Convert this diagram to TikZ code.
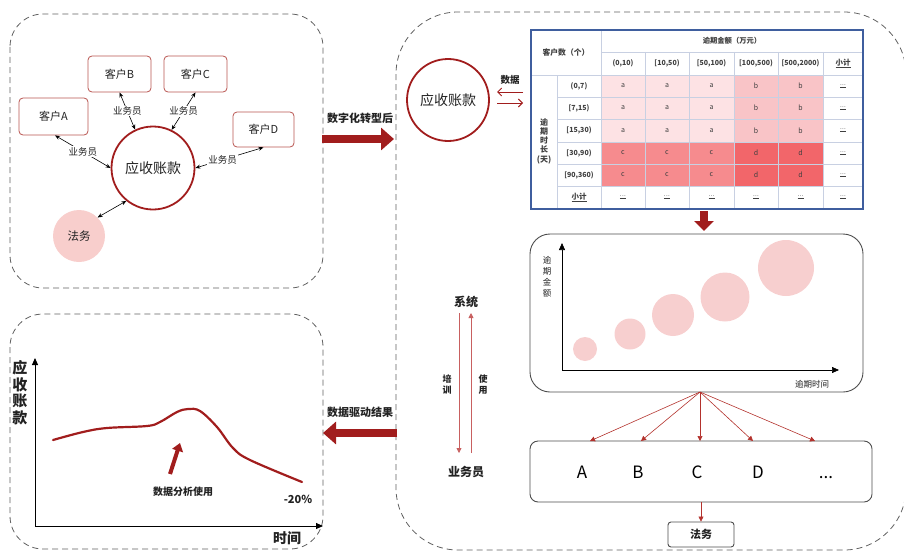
\documentclass[tikz,border=0pt]{standalone}
\usepackage{fontspec}
\setmainfont{Noto Sans CJK SC}
\usetikzlibrary{arrows.meta}
\definecolor{dred}{HTML}{A11D1D}
\definecolor{bred}{HTML}{B85450}
\definecolor{pinkf}{HTML}{F8CECC}
\definecolor{fanred}{HTML}{B3322D}
\definecolor{lred}{HTML}{C86060}
\definecolor{tblue}{HTML}{3F5E9E}
\definecolor{tgrid}{HTML}{C8D0E2}
\definecolor{ca}{HTML}{FDE2E4}
\definecolor{cb}{HTML}{F9C4C7}
\definecolor{cc}{HTML}{F68B8E}
\definecolor{cd}{HTML}{F2666A}
\definecolor{bubf}{HTML}{F7CFCF}
\definecolor{txt}{HTML}{222222}
\newcommand{\myfs}[1]{\fontsize{#1}{#1}\selectfont}
\begin{document}
\begin{tikzpicture}[x=1pt,y=-1pt,
  panel/.style={draw=gray!75!black, dash pattern=on 6pt off 4pt, line width=0.8pt},
  kbox/.style={draw=bred, rounded corners=4pt, line width=0.8pt, font=\myfs{11}, text=txt},
  arcirc/.style={circle, draw=dred, line width=1.8pt, font=\myfs{14}, text=txt},
  blk/.style={black, line width=0.6pt, {Stealth[length=5pt,width=4pt]}-{Stealth[length=5pt,width=4pt]}},
  ylab/.style={fill=white, inner sep=1pt, font=\myfs{9.5}, text=txt},
  bigarrow/.style={dred, line width=8pt, -{Triangle[length=13pt,width=22pt]}},
  btxt/.style={font=\bfseries\myfs{11}, text=txt},
  tb/.style={font=\bfseries\myfs{7}, text=black!75},
  tc/.style={font=\myfs{7}, text=black!75},
  fan/.style={fanred, line width=0.6pt, -{Triangle[length=5pt,width=5pt]}},
  laxis/.style={black, line width=0.9pt, -{Triangle[length=7pt,width=6pt]}},
  barrow/.style={lred, line width=0.8pt, -{Triangle[length=5pt,width=5pt]}},
  letter/.style={font=\myfs{17}, text=black},
]
\useasboundingbox (0,0) rectangle (904,551);

% ---------- panels ----------
\draw[panel, rounded corners=33pt] (10,14) rectangle (323,288);
\draw[panel, rounded corners=33pt] (10,314) rectangle (323,549);
\draw[panel, rounded corners=62pt] (396,12) rectangle (906,550);

% ---------- top-left ----------
\node[kbox, minimum width=69pt, minimum height=37pt] (ka) at (53.5,116.5) {客户A};
\node[kbox, minimum width=63pt, minimum height=36pt] (kb) at (119.5,74) {客户B};
\node[kbox, minimum width=63pt, minimum height=36pt] (kc) at (195.5,74) {客户C};
\node[kbox, minimum width=61pt, minimum height=35pt] (kd) at (263.5,129.5) {客户D};
\node[arcirc, minimum size=83pt] (ar1) at (153,168) {应收账款};
\node[circle, fill=pinkf, minimum size=52pt, font=\myfs{11.5}, text=txt] (fw1) at (79,236) {法务};
\draw[blk] ([xshift=1.5pt]ka.south) -- (ar1.west) node[ylab, midway] (l1) {业务员};
\draw[blk] (kb.south) -- (ar1.115) node[ylab, midway] (l2) {业务员};
\draw[blk] (kc.south) -- (ar1.64) node[ylab, midway] (l3) {业务员};
\draw[blk] (kd.south) -- (ar1.east) node[ylab, pos=0.6] (l4) {业务员};
\draw[blk] (fw1.45) -- (ar1.231);

% ---------- middle arrows ----------
\node[btxt] (t1) at (360,118) {数字化转型后};
\coordinate (d1s) at (322,139);
\coordinate (d1e) at (394,139);
\draw[bigarrow] (d1s) -- (d1e);
\node[btxt] (t2) at (360,412) {数据驱动结果};
\coordinate (d2s) at (397,433);
\coordinate (d2e) at (323,433);
\draw[bigarrow] (d2s) -- (d2e);

% ---------- right: circle + data ----------
\node[arcirc, minimum size=82pt] (ar2) at (448,100) {应收账款};
\node[font=\bfseries\myfs{9.5}, text=txt] (sj) at (510,80) {数据};
\coordinate (da1) at (523,92);
\coordinate (da2) at (497,92);
\coordinate (da3) at (497,103);
\coordinate (da4) at (523,103);
\draw[dred, line width=0.9pt, -{Straight Barb[length=4pt,width=8pt]}] (da1) -- (da2);
\draw[dred, line width=0.9pt, -{Straight Barb[length=4pt,width=8pt]}] (da3) -- (da4);

% ---------- table ----------
\def\Xa{531}\def\Xb{557}\def\Xc{601}\def\Xd{645}\def\Xe{689}\def\Xf{734}\def\Xg{778}\def\Xh{823}\def\Xi{863}
\def\Ya{30}\def\Yb{52}\def\Yc{75}\def\Yd{97}\def\Ye{119}\def\Yf{142}\def\Yg{164}\def\Yh{186}\def\Yi{209}
\fill[white] (\Xa,\Ya) rectangle (\Xi,\Yi);
\fill[ca] (\Xc,\Yc) rectangle (\Xf,\Yf);
\fill[cb] (\Xf,\Yc) rectangle (\Xh,\Yf);
\fill[cc] (\Xc,\Yf) rectangle (\Xf,\Yh);
\fill[cd] (\Xf,\Yf) rectangle (\Xh,\Yh);
\begin{scope}[tgrid, line width=0.7pt]
  \draw (\Xc,\Yb) -- (\Xi,\Yb);
  \draw (\Xa,\Yc) -- (\Xi,\Yc);
  \foreach \yy in {\Yd,\Ye,\Yf,\Yg,\Yh} \draw (\Xb,\yy) -- (\Xi,\yy);
  \draw (\Xb,\Yc) -- (\Xb,\Yi);
  \draw (\Xc,\Ya) -- (\Xc,\Yi);
  \foreach \xx in {\Xd,\Xe,\Xf,\Xg,\Xh} \draw (\xx,\Yb) -- (\xx,\Yi);
\end{scope}
\draw[tblue, line width=1.2pt] (\Xa,\Ya) rectangle (\Xi,\Yi);
\node[tb, font=\bfseries\myfs{7.8}] (th1) at (566,52.5) {客户数（个）};
\node[tb, font=\bfseries\myfs{7.3}] (th2) at (732,41) {逾期金额（万元）};
\foreach \xx/\tt [count=\i] in {623/{(0,10)},667/{[10,50)},711.5/{[50,100)},756/{[100,500)},800.5/{[500,2000)}}
  \node[tb] (hc\i) at (\xx,63.5) {\tt};
\node[tb, font=\bfseries\myfs{7.5}] (hc6) at (843,63.5) {\underline{小计}};
\node[tb, align=center, font=\bfseries\fontsize{8}{9.3}\selectfont] (vl) at (544,141) {逾\\期\\时\\长\\(天)};
\foreach \yy/\tt [count=\i] in {86/{(0,7)},108/{[7,15)},130.5/{[15,30)},153/{[30,90)},175/{[90,360)}}
  \node[tb] (rl\i) at (579,\yy) {\tt};
\node[tb, font=\bfseries\myfs{7.5}] (rl6) at (579,197.5) {\underline{小计}};
\foreach \yy [count=\i] in {86,108,130.5} {
  \foreach \xx [count=\j] in {623,667,711.5} \node[tc] (a\i\j) at (\xx,\yy) {a};
  \foreach \xx [count=\j] in {756,800.5} \node[tc] (b\i\j) at (\xx,\yy) {b};
}
\foreach \yy [count=\i] in {153,175} {
  \foreach \xx [count=\j] in {623,667,711.5} \node[tc] (c\i\j) at (\xx,\yy) {c};
  \foreach \xx [count=\j] in {756,800.5} \node[tc] (d\i\j) at (\xx,\yy) {d};
}
\foreach \yy [count=\i] in {86,108,130.5,153,175,197.5}
  \node[tc, font=\myfs{6.5}] (e\i) at (843,\yy) {\underline{.\kern0.3pt.\kern0.3pt.}};
\foreach \xx [count=\i] in {623,667,711.5,756,800.5}
  \node[tc, font=\myfs{6.5}] (f\i) at (\xx,197.5) {\underline{.\kern0.3pt.\kern0.3pt.}};

% ---------- down arrow ----------
\coordinate (dn1) at (704,211);
\coordinate (dn2) at (704,231);
\draw[dred, line width=8pt, -{Triangle[length=10pt,width=19pt]}] (dn1) -- (dn2);

% ---------- bubble chart ----------
\node[draw=gray!60!black, line width=0.9pt, rounded corners=20pt, minimum width=333pt, minimum height=158pt] (bub) at (696.5,313) {};
\coordinate (org) at (562,370);
\coordinate (yt) at (562,243);
\coordinate (xt) at (839,370);
\draw[laxis, line width=0.7pt] (org) -- (yt);
\draw[laxis, line width=0.7pt] (org) -- (xt);
\node[align=center, font=\fontsize{8.5}{11}\selectfont, text=txt] (byl) at (547,277) {逾\\期\\金\\额};
\node[font=\myfs{8.5}, text=txt] (bxl) at (812,384) {逾期时间};
\fill[bubf] (585,349) circle (12);
\fill[bubf] (630,334) circle (15.5);
\fill[bubf] (673,315) circle (21);
\fill[bubf] (725,297) circle (24.5);
\fill[bubf] (786,268) circle (28);

% ---------- letters box ----------
\node[draw=gray!60!black, line width=0.9pt, rounded corners=8pt, minimum width=342pt, minimum height=61pt] (lt) at (701,471.5) {};
\node[letter] (L1) at (582,472) {A};
\node[letter] (L2) at (638,472) {B};
\node[letter] (L3) at (697,472) {C};
\node[letter] (L4) at (758,472) {D};
\node[letter, anchor=base] (L5) at (826,478) {...};
\coordinate (fs) at (700,392);
\foreach \xx [count=\i] in {590,641,700,753,815} {
  \coordinate (ft\i) at (\xx,441);
  \draw[fan] (fs) -- (ft\i);
}
\node[draw=gray!60!black, line width=0.9pt, rounded corners=3pt, minimum width=66pt, minimum height=25pt, font=\bfseries\myfs{11}, text=txt] (fw2) at (701,534.5) {法务};
\draw[fan] (lt.south) -- (fw2.north);

% ---------- system / staff ----------
\node[font=\bfseries\myfs{12}, text=txt] (sys) at (466,302) {系统};
\node[font=\bfseries\myfs{12}, text=txt] (ywy) at (466,472) {业务员};
\draw[barrow, shorten <=11pt, shorten >=19pt] ([xshift=-7pt]sys.center) -- ([xshift=-7pt]ywy.center);
\draw[barrow, shorten <=19pt, shorten >=11pt] ([xshift=5pt]ywy.center) -- ([xshift=5pt]sys.center);
\node[align=center, font=\bfseries\fontsize{9}{11}\selectfont, text=txt] (px) at (447,385) {培\\训};
\node[align=center, font=\bfseries\fontsize{9}{11}\selectfont, text=txt] (sy) at (483,385) {使\\用};

% ---------- bottom-left chart ----------
\coordinate (o2) at (35,526);
\coordinate (y2) at (35,358);
\coordinate (x2) at (323,526);
\draw[laxis] (o2) -- (y2);
\draw[laxis] (o2) -- (x2);
\node[align=center, font=\bfseries\fontsize{15}{16.5}\selectfont, text=txt] (yl2) at (20,392.5) {应\\收\\账\\款};
\node[font=\bfseries\myfs{14}, text=txt] (xl2) at (287,538) {时间};
\draw[dred, line width=2.2pt, line cap=round] plot[smooth, tension=0.6] coordinates {(53,440) (83,432) (107,428) (147,426) (160,422) (177,412) (188,409) (200,411) (217,427) (233,448) (250,460) (302,482)};
\coordinate (sa1) at (170,474);
\coordinate (sa2) at (180,443);
\draw[dred, line width=4pt, -{Triangle[length=8pt,width=11pt]}] (sa1) -- (sa2);
\node[font=\bfseries\myfs{10}, text=txt] (da) at (183,492) {数据分析使用};
\node[font=\bfseries\myfs{11}, text=txt] (pc) at (298,499) {-20\%};
\end{tikzpicture}
\end{document}
